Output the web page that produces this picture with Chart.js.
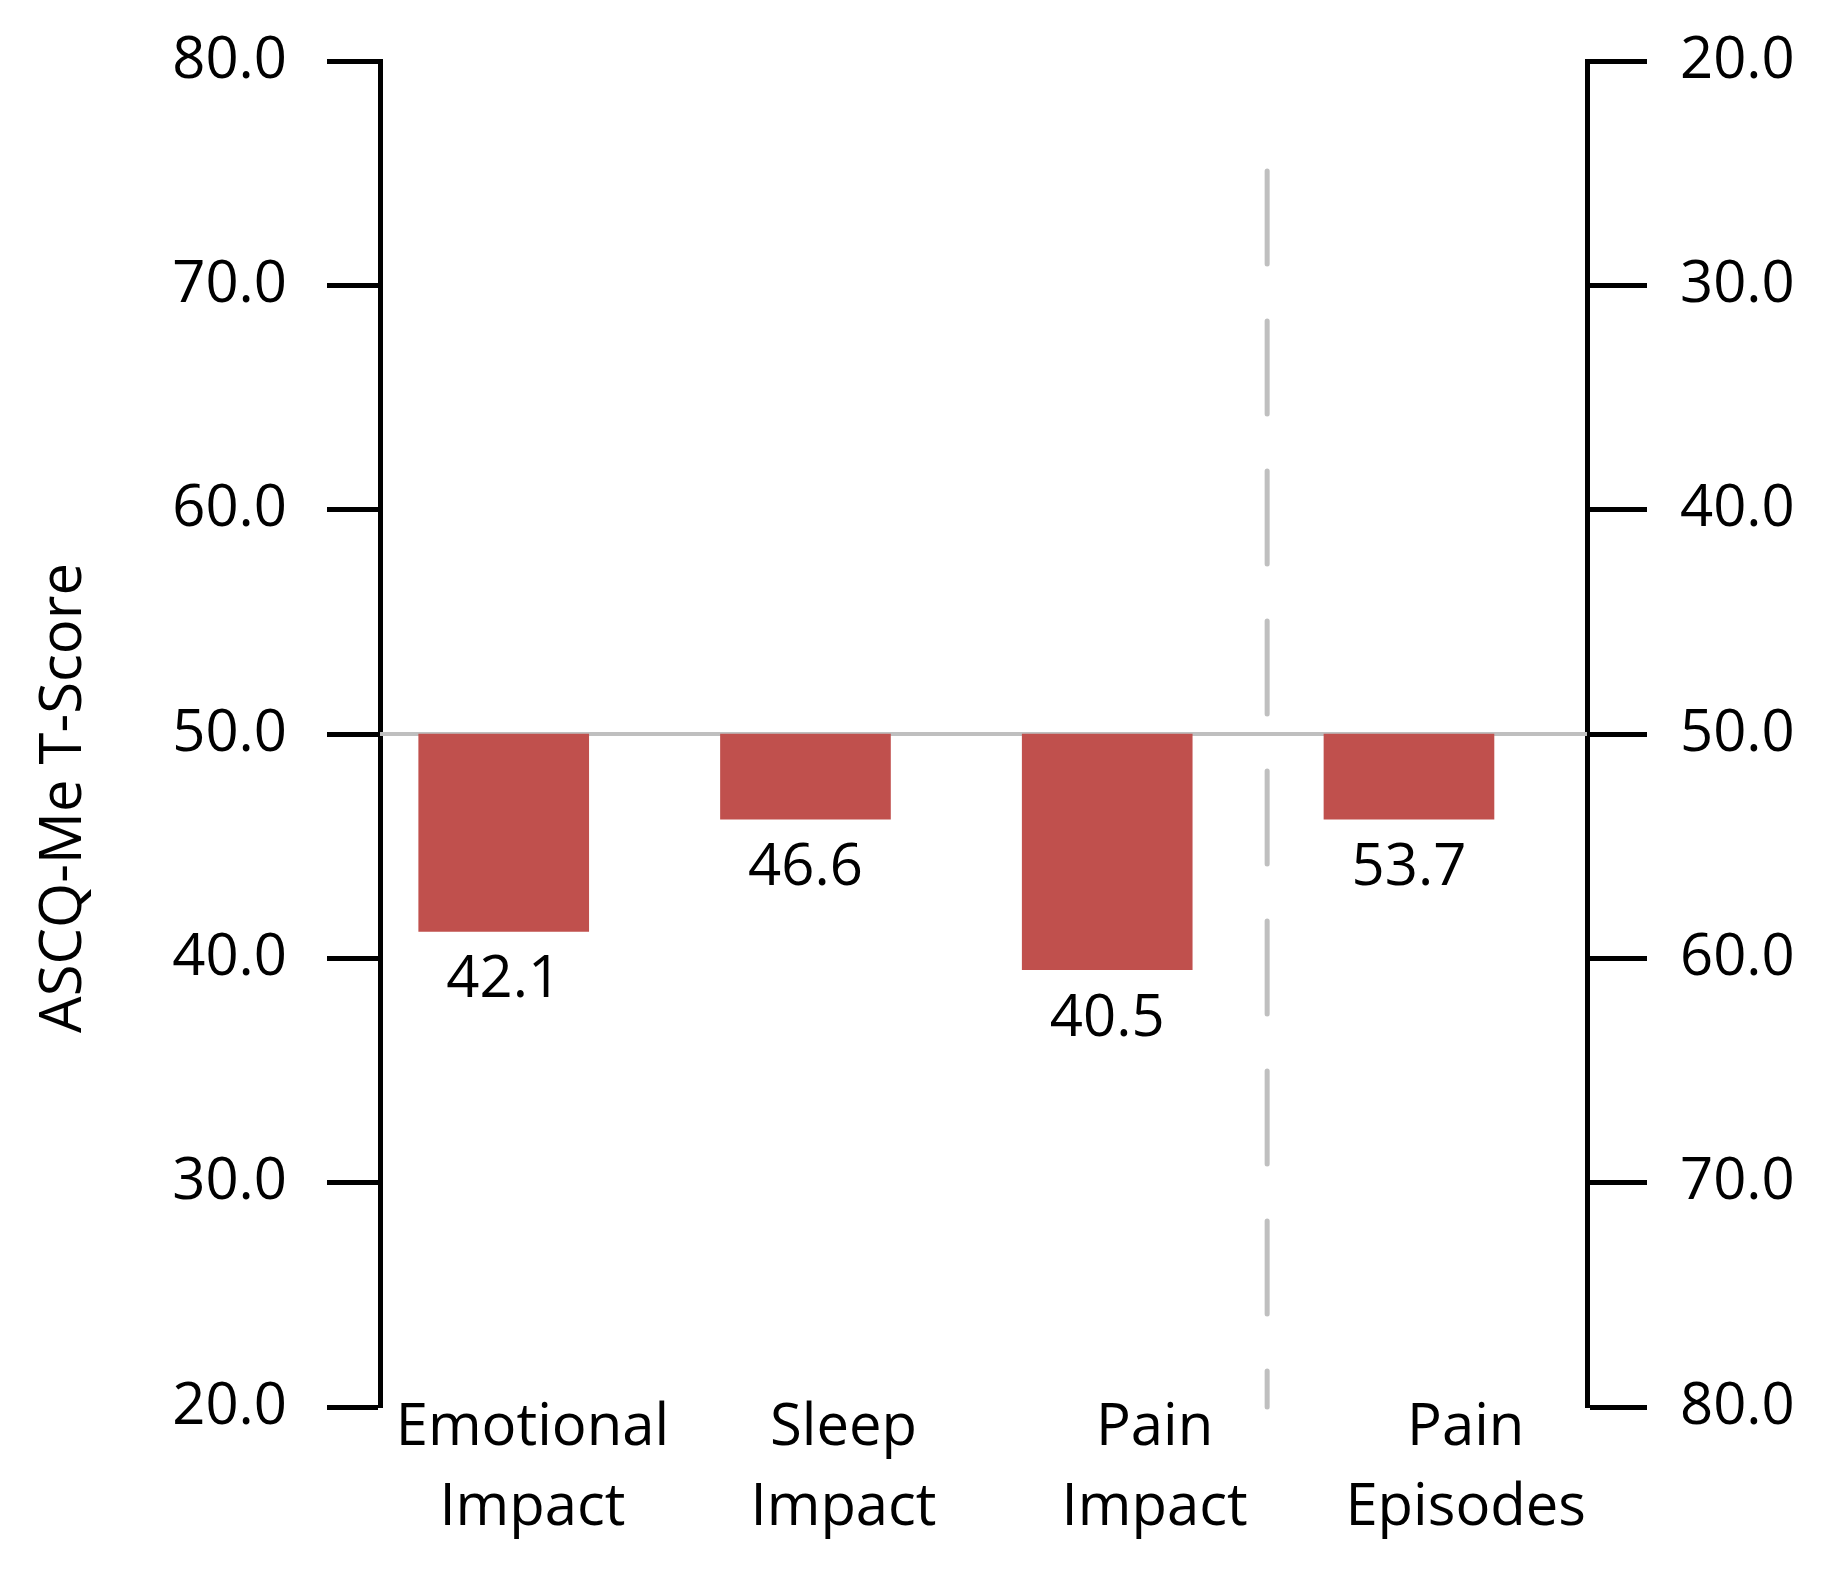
<!DOCTYPE html>
<html>
<head>
<meta charset="utf-8">
<script src="https://cdn.jsdelivr.net/npm/chart.js@4/dist/chart.umd.min.js"></script>
<style>
  html, body { margin: 0; padding: 0; background: #fff; }
  #wrap { width: 1831px; height: 1575px; }
</style>
</head>
<body>
<div id="wrap"><canvas id="scoreChart" width="1831" height="1575"></canvas></div>
<script>
// categories (two-line labels)
const categories = [['Emotional', 'Impact'], ['Sleep', 'Impact'], ['Pain', 'Impact'], ['Pain', 'Episodes']];
// where each bar ends, as drawn
const barEnds = [41.2, 46.2, 39.5, 53.8];
// printed score under each bar
const scoreText = ['42.1', '46.6', '40.5', '53.7'];
// last category is read on the reversed right axis
const onRightAxis = [false, false, false, true];
const normMean = 50;
const leftTicks = [20, 30, 40, 50, 60, 70, 80];
const rightTicks = [20, 30, 40, 50, 60, 70, 80];
const yTitle = 'ASCQ-Me T-Score';
// dashed divider between Pain Impact and Pain Episodes
const dividerAt = 2.53;
const dividerTop = 75.1;

const FONT = "'Open Sans', 'Noto Sans', sans-serif";
const FSIZE = 58;
const barRed = '#C0504D';
const lightGrey = '#BFBFBF';

function pointsFor(right) {
  const pts = [];
  categories.forEach(function(c, i) {
    if (onRightAxis[i] === right) pts.push({ x: i, y: [normMean, barEnds[i]] });
  });
  return pts;
}

const guides = {
  id: 'guides',
  beforeDatasetsDraw(chart) {
    const c = chart.ctx, a = chart.chartArea;
    const yL = chart.scales.y, xS = chart.scales.x;
    c.save();
    // norm line at 50
    const y50 = yL.getPixelForValue(normMean);
    c.strokeStyle = lightGrey;
    c.lineWidth = 4;
    c.beginPath();
    c.moveTo(a.left, y50);
    c.lineTo(a.right, y50);
    c.stroke();
    // dashed divider
    const dx = xS.getPixelForValue(dividerAt);
    c.lineWidth = 5;
    c.lineCap = 'round';
    c.setLineDash([93, 57]);
    c.beginPath();
    c.moveTo(dx, yL.getPixelForValue(dividerTop));
    c.lineTo(dx, a.bottom);
    c.stroke();
    c.restore();
  },
  afterDatasetsDraw(chart) {
    const c = chart.ctx, a = chart.chartArea;
    c.save();
    c.font = FSIZE + 'px ' + FONT;
    c.fillStyle = '#000';
    c.textAlign = 'center';
    c.textBaseline = 'alphabetic';
    // value labels under bars
    chart.data.datasets.forEach(function(ds, di) {
      const meta = chart.getDatasetMeta(di);
      meta.data.forEach(function(bar, j) {
        const idx = ds.data[j].x;
        const bottom = Math.max(bar.y, bar.base);
        c.fillText(scoreText[idx], bar.x, bottom + 66);
      });
    });
    // category labels
    const xl = chart.scales.xLabels;
    categories.forEach(function(lines, i) {
      const px = xl.getPixelForValue(i);
      lines.forEach(function(line, k) {
        c.fillText(line, px, a.bottom + 38 + k * 80);
      });
    });
    // y axis title
    c.translate(64, (a.top + a.bottom) / 2 + 64);
    c.rotate(-Math.PI / 2);
    c.textBaseline = 'middle';
    c.fillText(yTitle, 0, 0);
    c.restore();
  }
};

const tickFont = { family: FONT, size: FSIZE };

function noEdgePadding(s) {
  s.paddingTop = 0;
  s.paddingBottom = 0;
}

new Chart(document.getElementById('scoreChart').getContext('2d'), {
  type: 'bar',
  data: {
    labels: categories,
    datasets: [
      { data: pointsFor(false), xAxisID: 'x', yAxisID: 'y', backgroundColor: barRed },
      { data: pointsFor(true), xAxisID: 'x', yAxisID: 'y2', backgroundColor: barRed }
    ]
  },
  options: {
    responsive: false,
    animation: false,
    grouped: false,
    barThickness: 170,
    layout: { padding: { top: 61, bottom: 168, left: 0, right: 0 } },
    scales: {
      x: {
        type: 'linear',
        display: false,
        offset: false,
        min: -0.41,
        max: 3.59
      },
      xLabels: {
        type: 'linear',
        position: 'bottom',
        display: false,
        offset: false,
        min: -0.49,
        max: 3.39
      },
      y: {
        position: 'left',
        min: 20,
        max: 80,
        afterBuildTicks: function(s) { s.ticks = leftTicks.map(v => ({ value: v })); },
        afterFit: function(s) { s.width = 380; noEdgePadding(s); },
        grid: { drawOnChartArea: false, tickLength: 53, tickWidth: 5, tickColor: '#000' },
        border: { color: '#000', width: 5 },
        ticks: {
          font: tickFont,
          color: '#000',
          padding: 40,
          callback: v => v.toFixed(1)
        }
      },
      y2: {
        position: 'right',
        reverse: true,
        min: 20,
        max: 80,
        afterBuildTicks: function(s) { s.ticks = rightTicks.map(v => ({ value: v })); },
        afterFit: function(s) { s.width = 244; noEdgePadding(s); },
        grid: { drawOnChartArea: false, tickLength: 60, tickWidth: 5, tickColor: '#000' },
        border: { color: '#000', width: 5 },
        ticks: {
          font: tickFont,
          color: '#000',
          padding: 33,
          callback: v => v.toFixed(1)
        }
      }
    },
    plugins: {
      legend: { display: false },
      title: { display: false },
      tooltip: { enabled: false }
    }
  },
  plugins: [guides]
});
</script>
</body>
</html>
